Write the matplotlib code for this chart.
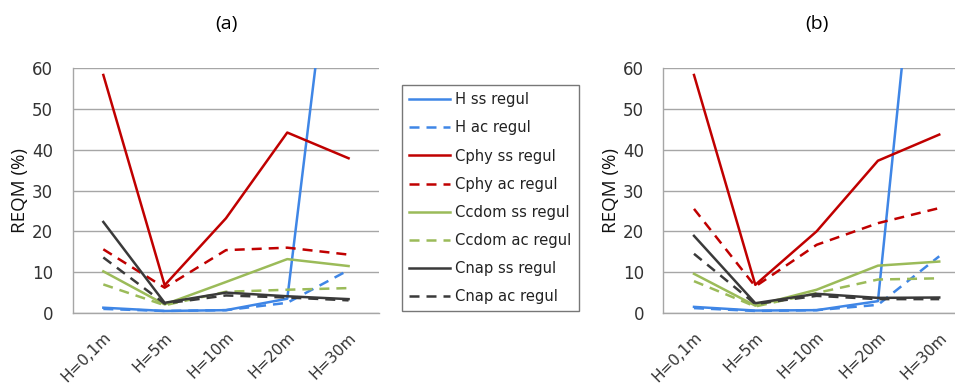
import matplotlib
matplotlib.use("Agg")
import matplotlib.pyplot as plt
from matplotlib.lines import Line2D

categories = ["H=0,1m", "H=5m", "H=10m", "H=20m", "H=30m"]
series_names = ["H ss regul", "H ac regul", "Cphy ss regul", "Cphy ac regul",
                "Ccdom ss regul", "Ccdom ac regul", "Cnap ss regul", "Cnap ac regul"]

# panel (a)
a_H_ss = [1.3, 0.5, 0.7, 3.5, 127]
a_H_ac = [1.0, 0.5, 0.7, 2.5, 10.5]
a_Cphy_ss = [58.3, 6.8, 23.2, 44.2, 37.9]
a_Cphy_ac = [15.6, 6.2, 15.4, 16.0, 14.3]
a_Ccdom_ss = [10.2, 2.1, 7.6, 13.2, 11.5]
a_Ccdom_ac = [7.0, 1.9, 5.2, 5.7, 6.1]
a_Cnap_ss = [22.3, 2.5, 5.0, 4.1, 3.4]
a_Cnap_ac = [13.6, 2.3, 4.3, 3.8, 3.1]

# panel (b)
b_H_ss = [1.5, 0.6, 0.7, 2.9, 150]
b_H_ac = [1.2, 0.5, 0.7, 2.0, 13.9]
b_Cphy_ss = [58.3, 6.9, 20.0, 37.3, 43.7]
b_Cphy_ac = [25.5, 6.5, 16.7, 22.0, 25.7]
b_Ccdom_ss = [9.6, 1.8, 5.7, 11.6, 12.6]
b_Ccdom_ac = [7.8, 1.6, 4.9, 8.2, 8.5]
b_Cnap_ss = [18.9, 2.4, 4.7, 3.7, 3.8]
b_Cnap_ac = [14.5, 2.2, 4.2, 3.4, 3.4]

yticks = [0, 10, 20, 30, 40, 50, 60]

colors = ["#3f86e6", "#3f86e6", "#c00000", "#c00000",
          "#9bbb59", "#9bbb59", "#3a3a3a", "#3a3a3a"]
styles = ["-", "--", "-", "--", "-", "--", "-", "--"]

panel_a = [a_H_ss, a_H_ac, a_Cphy_ss, a_Cphy_ac, a_Ccdom_ss, a_Ccdom_ac, a_Cnap_ss, a_Cnap_ac]
panel_b = [b_H_ss, b_H_ac, b_Cphy_ss, b_Cphy_ac, b_Ccdom_ss, b_Ccdom_ac, b_Cnap_ss, b_Cnap_ac]

fig = plt.figure(figsize=(9.55, 3.87), dpi=100)
axA = fig.add_axes([0.0761, 0.1912, 0.321, 0.633])
axB = fig.add_axes([0.6946, 0.1912, 0.321, 0.633])

lw = 1.8
dash = (0, (4, 2.8))
for ax, data, title in [(axA, panel_a, "(a)"), (axB, panel_b, "(b)")]:
    x = list(range(len(categories)))
    for vals, c, s in zip(data, colors, styles):
        ax.plot(x, vals, color=c, lw=lw, linestyle=dash if s == "--" else "-")
    ax.set_xlim(-0.5, len(categories) - 0.5)
    ax.set_ylim(0, 60)
    ax.set_yticks(yticks)
    ax.set_xticks(x)
    ax.set_xticklabels(categories, rotation=45, ha="right", rotation_mode="anchor",
                       fontsize=11, color="#333333")
    ax.set_yticklabels([str(t) for t in yticks], fontsize=12, color="#333333")
    ax.tick_params(axis="y", length=0, pad=14)
    ax.tick_params(axis="x", length=0, pad=12)
    ax.grid(axis="y", color="#a6a6a6", lw=1)
    ax.set_axisbelow(True)
    for sp in ["top", "right"]:
        ax.spines[sp].set_visible(False)
    for sp in ["left", "bottom"]:
        ax.spines[sp].set_color("#a6a6a6")
        ax.spines[sp].set_linewidth(1)
    ax.set_ylabel("REQM (%)", fontsize=13.5, family="Open Sans", color="#111111", labelpad=2)
    ax.set_title(title, fontsize=14, family="Open Sans", pad=28)

handles = [Line2D([0], [0], color=c, lw=lw, linestyle=dash if s == "--" else "-")
           for c, s in zip(colors, styles)]
leg = fig.legend(handles, series_names, loc="upper left",
                 bbox_to_anchor=(402 / 955, 1 - 85 / 387), fontsize=10.6,
                 frameon=True, fancybox=False, edgecolor="#555555",
                 handlelength=2.75, handletextpad=0.35, labelspacing=0.89,
                 borderpad=0.5, borderaxespad=0)
leg.get_frame().set_linewidth(1)
for t in leg.get_texts():
    t.set_color("#222222")

fig.savefig("out.png", dpi=100)
